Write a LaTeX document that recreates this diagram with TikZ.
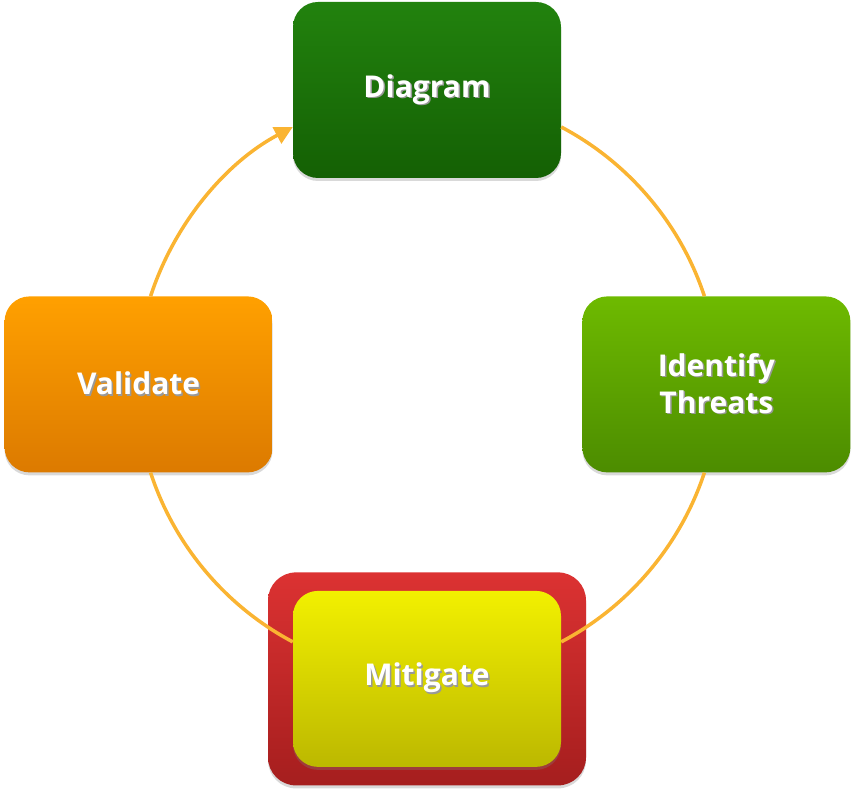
\documentclass[tikz,border=0pt]{standalone}
\usepackage{fontspec}
\setmainfont{Open Sans}
\usetikzlibrary{positioning}
\usetikzlibrary{arrows.meta}
\usetikzlibrary{shadows}

\definecolor{ringcol}{RGB}{250,180,50}
\definecolor{dgtop}{RGB}{34,130,14}
\definecolor{dgbot}{RGB}{20,96,4}
\definecolor{idtop}{RGB}{110,186,0}
\definecolor{idbot}{RGB}{76,140,0}
\definecolor{vatop}{RGB}{255,160,0}
\definecolor{vabot}{RGB}{220,122,0}
\definecolor{mitop}{RGB}{242,240,0}
\definecolor{mibot}{RGB}{188,184,0}
\definecolor{hltop}{RGB}{220,50,50}
\definecolor{hlbot}{RGB}{165,30,30}

% white label with a soft dark shadow under it
\newcommand\shtxt[1]{\makebox[0pt][l]{\hspace{1.5pt}\raisebox{-1.5pt}{\textcolor{black!40}{#1}}}#1}

\tikzset{
    phase/.style={rounded corners=25pt, minimum width=268pt, minimum height=176pt,
        align=center, text=white, font=\fontsize{30}{37}\selectfont\bfseries,
        drop shadow={shadow xshift=0pt, shadow yshift=-3pt, opacity=0.3}},
    hilite/.style={rounded corners=28pt, minimum width=318pt, minimum height=213pt,
        top color=hltop, bottom color=hlbot,
        drop shadow={shadow xshift=0pt, shadow yshift=-3pt, opacity=0.3}},
    ring/.style={draw=ringcol, line width=3.5pt, bend left=22, looseness=0.88}
}

\begin{document}
\begin{tikzpicture}[x=1pt, y=1pt, >={Triangle[length=18pt,width=18pt]}]
    \useasboundingbox (0,0) rectangle (854,789);
    \node[phase, top color=dgtop, bottom color=dgbot] (D) at (427,699) {\shtxt{Diagram}};
    \node[phase, top color=idtop, bottom color=idbot, below right=118pt and 21pt of D] (I) {\shtxt{Identify}\\\shtxt{Threats}};
    \node[phase, top color=vatop, bottom color=vabot, below left=118pt and 20pt of D] (V) {\shtxt{Validate}};
    \node[hilite, below=394pt of D] (Mh) {};
    \node[phase, top color=mitop, bottom color=mibot] (M) at (Mh) {\shtxt{Mitigate}};
    \draw[ring] ([yshift=-37pt]D.east) to ([xshift=-12pt]I.north);
    \draw[ring] ([xshift=-12pt]I.south) to ([yshift=37pt]M.east);
    \draw[ring] ([yshift=37pt]M.west) to ([xshift=12pt]V.south);
    \draw[ring, ->, ringcol] ([xshift=12pt]V.north) to ([yshift=-37pt]D.west);
\end{tikzpicture}
\end{document}
